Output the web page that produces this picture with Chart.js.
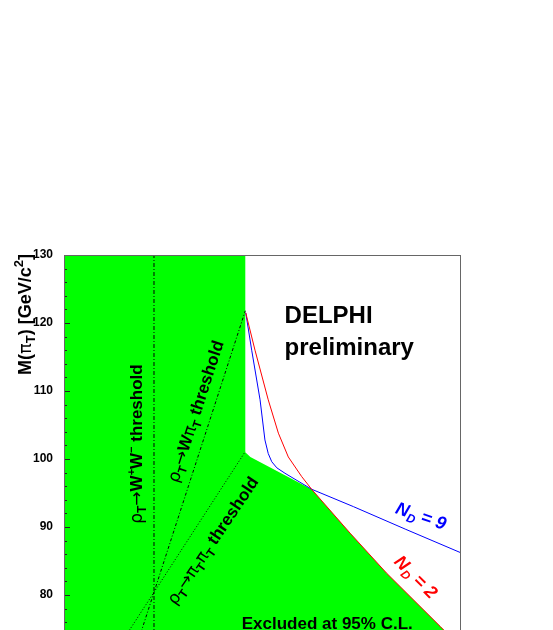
<!DOCTYPE html>
<html>
<head>
<meta charset="utf-8">
<title>DELPHI technicolor exclusion</title>
<script src="https://cdn.jsdelivr.net/npm/chart.js@4/dist/chart.umd.min.js"></script>
<style>
  html, body { margin: 0; padding: 0; background: #fff; overflow: hidden; }
  #wrap { width: 553px; height: 700px; }
</style>
</head>
<body>
<div id="wrap"><canvas id="c" width="553" height="700"></canvas></div>
<script>
/* ─────────────────────────────────────────────
   Data  (x = M(rho_T), y = M(pi_T), GeV/c^2)
───────────────────────────────────────────── */
const X_MIN = 120, X_MAX = 300;
const Y_MIN = 70, Y_MAX = 130;

// excluded region, upper edge
const exclX = [120, 202.2, 202.2, 204.5, 232.4, 249.7, 266.3, 290.5, 300];
const exclY = [130, 130, 101.0, 100.3, 95.5, 89.1, 83.2, 75.4, 72.3];

// N_D = 2 limit (red)
const nd2X = [202.4, 206.6, 212.6, 217.2, 221.7, 227.8, 232.4, 249.7, 266.3, 290.5, 300];
const nd2Y = [121.5, 116.0, 108.7, 103.8, 100.3, 97.4, 95.5, 89.1, 83.2, 75.4, 72.3];

// N_D = 9 limit (blue)
const nd9X = [202.4, 205.1, 208.9, 211.1, 212.6, 214.2, 216.5, 220.2, 232.3, 251.2, 275, 300];
const nd9Y = [121.5, 116.0, 108.7, 102.8, 100.8, 99.6, 98.7, 97.9, 95.55, 93.0, 89.65, 86.2];

// kinematic thresholds
const wwX = [160.8, 160.8], wwY = [70, 130];
const wpiX = [150.4, 202.2], wpiY = [70, 121.8];
const pipiX = [140, 202.2], pipiY = [70, 101.1];

/* ─────────────────────────────────────────────
   Helpers
───────────────────────────────────────────── */
const SANS = '"Liberation Sans", Arial, Helvetica, sans-serif';
const GREEK = '"DejaVu Sans", sans-serif';
const B = s => `bold ${s}px ${SANS}`;
const G = s => `${s}px ${GREEK}`;
const BI = s => `italic bold ${s}px ${SANS}`;

const pts = (xs, ys) => xs.map((x, i) => ({ x, y: ys[i] }));

function rich(ctx, parts, x, y, ang, align, color) {
    let w = 0;
    parts.forEach(p => { ctx.font = p.f; w += ctx.measureText(p.t).width; });
    ctx.save();
    ctx.translate(x, y);
    ctx.rotate(ang * Math.PI / 180);
    ctx.fillStyle = color || '#000';
    ctx.textAlign = 'left';
    ctx.textBaseline = 'alphabetic';
    let cx = align === 'center' ? -w / 2 : align === 'right' ? -w : 0;
    parts.forEach(p => {
        ctx.font = p.f;
        ctx.fillText(p.t, cx, p.dy || 0);
        cx += ctx.measureText(p.t).width;
    });
    ctx.restore();
}

const sub = t => ({ t, f: B(12), dy: 4 });

const labels = [
    { at: [155.2, 102.2], ang: -90, align: 'center', parts: [
        { t: 'ρ', f: G(17) }, sub('T'), { t: '→', f: G(17) }, { t: 'W', f: B(17) },
        { t: '+', f: B(11), dy: -7 }, { t: 'W', f: B(17) }, { t: '−', f: B(11), dy: -7 },
        { t: ' threshold', f: B(17) }] },
    { at: [182.1, 106.75], ang: -72, align: 'center', parts: [
        { t: 'ρ', f: G(17) }, sub('T'), { t: '→', f: G(17) }, { t: 'W', f: B(17) },
        { t: 'π', f: G(17) }, sub('T'), { t: ' threshold', f: B(17) }] },
    { at: [189.5, 87.56], ang: -56, align: 'center', parts: [
        { t: 'ρ', f: G(17) }, sub('T'), { t: '→', f: G(17) }, { t: 'π', f: G(17) }, sub('T'),
        { t: 'π', f: G(17) }, sub('T'), { t: ' threshold', f: B(17) }] },
    { at: [220, 120], ang: 0, align: 'left', parts: [{ t: 'DELPHI', f: B(24) }] },
    { at: [220, 115.3], ang: 0, align: 'left', parts: [{ t: 'preliminary', f: B(24) }] },
    { at: [200.6, 75.0], ang: 0, align: 'left', parts: [{ t: 'Excluded at 95% C.L.', f: B(17) }] },
    { at: [281.0, 90.8], ang: 19, align: 'center', color: '#0000ff', parts: [
        { t: 'N', f: BI(18) }, { t: 'D', f: BI(12), dy: 4 }, { t: ' = 9', f: BI(18) }] },
    { at: [277.7, 82.05], ang: 45, align: 'center', color: '#ff0000', parts: [
        { t: 'N', f: BI(18) }, { t: 'D', f: BI(12), dy: 4 }, { t: ' = 2', f: BI(18) }] }
];

/* ─────────────────────────────────────────────
   Frame, inward ticks and text
───────────────────────────────────────────── */
const decor = {
    id: 'decor',
    afterDatasetsDraw(chart) {
        const { ctx, chartArea: a, scales: { x, y } } = chart;
        ctx.save();
        ctx.beginPath();
        ctx.rect(a.left, a.top, a.width, a.height);
        ctx.clip();
        labels.forEach(l => rich(ctx, l.parts, x.getPixelForValue(l.at[0]), y.getPixelForValue(l.at[1]), l.ang, l.align, l.color));
        ctx.restore();

        ctx.save();
        ctx.strokeStyle = '#222';
        ctx.lineWidth = 1;
        y.ticks.forEach(t => {
            const py = Math.round(y.getPixelForValue(t.value)) + 0.5;
            const len = t.value % 10 === 0 ? 6 : 3;
            ctx.beginPath();
            ctx.moveTo(a.left, py);
            ctx.lineTo(a.left + len, py);
            ctx.stroke();
        });
        ctx.strokeStyle = '#666';
        ctx.strokeRect(a.left + 0.5, a.top + 0.5, a.width - 1, a.height - 1);
        ctx.restore();

        // y axis title
        rich(ctx, [
            { t: 'M(', f: B(18) }, { t: 'π', f: G(18) }, { t: 'T', f: B(13), dy: 4 }, { t: ') [GeV/c', f: B(18) },
            { t: '2', f: B(13), dy: -8 }, { t: ']', f: B(18) }
        ], 31, a.top - 1, -90, 'right');
    }
};

/* ─────────────────────────────────────────────
   Chart
───────────────────────────────────────────── */
const lineSet = (data, color, dash, order) => ({
    data, showLine: true, pointRadius: 0, borderColor: color, borderWidth: 1,
    borderDash: dash, fill: false, tension: 0, order
});

new Chart(document.getElementById('c'), {
    type: 'scatter',
    data: {
        datasets: [
            { data: pts(exclX, exclY), showLine: true, pointRadius: 0, borderWidth: 0,
              borderColor: '#00ff00', backgroundColor: '#00ff00', fill: 'start', order: 10 },
            lineSet(pts(wwX, wwY), '#000', [4, 2, 1, 2], 5),
            lineSet(pts(wpiX, wpiY), '#000', [3, 2, 1, 2], 5),
            lineSet(pts(pipiX, pipiY), '#000', [1, 2], 5),
            lineSet(pts(nd9X, nd9Y), '#0000ff', [], 2),
            lineSet(pts(nd2X, nd2Y), '#ff0000', [], 1)
        ]
    },
    options: {
        responsive: false,
        animation: false,
        devicePixelRatio: 1,
        layout: { padding: { top: 255, right: 92, bottom: 37, left: 0 } },
        plugins: { legend: { display: false }, tooltip: { enabled: false } },
        scales: {
            x: { type: 'linear', min: X_MIN, max: X_MAX, display: false },
            y: {
                type: 'linear', min: Y_MIN, max: Y_MAX,
                afterFit: s => { s.width = 64; },
                grid: { display: false, drawTicks: false },
                border: { display: false },
                ticks: {
                    stepSize: 2, autoSkip: false, padding: 11, color: '#000',
                    font: { family: SANS, size: 12, weight: 'bold' },
                    callback: v => (v % 10 === 0 ? String(v) : '')
                }
            }
        }
    },
    plugins: [decor]
});
</script>
</body>
</html>
